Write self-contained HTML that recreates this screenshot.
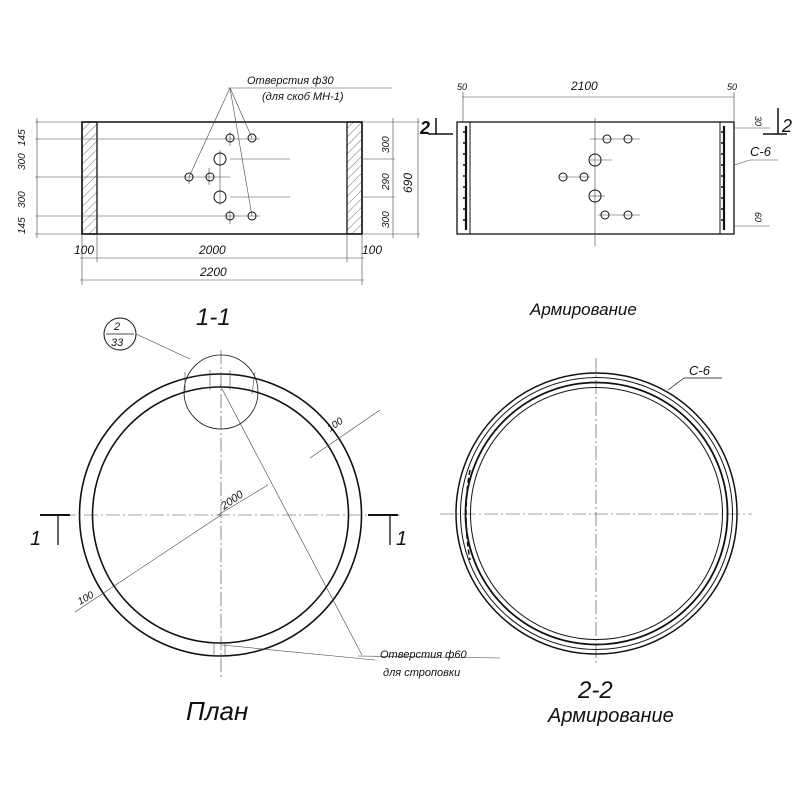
<!DOCTYPE html>
<html><head><meta charset="utf-8"><style>
html,body{margin:0;padding:0;background:#fff;}
svg{display:block;}
text{font-family:"Liberation Sans",sans-serif;font-style:italic;fill:#111;}
</style></head><body>
<svg width="800" height="800" viewBox="0 0 800 800" xmlns="http://www.w3.org/2000/svg">
<defs>
<pattern id="h" width="6" height="6" patternUnits="userSpaceOnUse" patternTransform="rotate(45)">
<line x1="0" y1="0" x2="0" y2="6" stroke="#555" stroke-width="0.8"/>
</pattern>
</defs>
<g stroke="#111" fill="none" stroke-width="1">
<rect x="82" y="122" width="280" height="112" stroke-width="1.5"/>
<rect x="82" y="122" width="15" height="112" fill="url(#h)" stroke-width="1.3"/>
<rect x="347" y="122" width="15" height="112" fill="url(#h)" stroke-width="1.3"/>
<g stroke-width="0.6" stroke="#444">
<line x1="35" y1="122" x2="82" y2="122"/>
<line x1="35" y1="139" x2="260" y2="139"/>
<line x1="35" y1="177" x2="230" y2="177"/>
<line x1="35" y1="216" x2="260" y2="216"/>
<line x1="35" y1="234" x2="82" y2="234"/>
<line x1="37" y1="118" x2="37" y2="238"/>
<line x1="362" y1="122" x2="420" y2="122"/>
<line x1="362" y1="159" x2="395" y2="159"/>
<line x1="362" y1="197" x2="395" y2="197"/>
<line x1="362" y1="234" x2="420" y2="234"/>
<line x1="393" y1="118" x2="393" y2="238"/>
<line x1="418" y1="118" x2="418" y2="238"/>
<line x1="230" y1="159" x2="290" y2="159"/>
<line x1="230" y1="197" x2="290" y2="197"/>
<line x1="82" y1="234" x2="82" y2="285"/>
<line x1="97" y1="234" x2="97" y2="262"/>
<line x1="347" y1="234" x2="347" y2="262"/>
<line x1="362" y1="234" x2="362" y2="285"/>
<line x1="80" y1="258" x2="364" y2="258"/>
<line x1="80" y1="280" x2="364" y2="280"/>
<line x1="228" y1="88" x2="392" y2="88"/>
<line x1="230" y1="88" x2="189" y2="177"/>
<line x1="230" y1="88" x2="252" y2="138"/>
<line x1="230" y1="88" x2="252" y2="216"/>
<line x1="220" y1="150" x2="220" y2="205"/>
<line x1="209" y1="168" x2="209" y2="185"/>
<line x1="189" y1="177" x2="189" y2="184"/>
<line x1="230" y1="132" x2="230" y2="146"/>
<line x1="230" y1="210" x2="230" y2="224"/>
</g>
<circle cx="230" cy="138" r="4"/><circle cx="252" cy="138" r="4"/>
<circle cx="220" cy="159" r="6"/><circle cx="220" cy="197" r="6"/>
<circle cx="189" cy="177" r="4"/><circle cx="210" cy="177" r="4"/>
<circle cx="230" cy="216" r="4"/><circle cx="252" cy="216" r="4"/>

<rect x="457" y="122" width="277" height="112" stroke-width="1.3"/>
<line x1="470" y1="122" x2="470" y2="234"/>
<line x1="720" y1="122" x2="720" y2="234"/>
<line x1="466" y1="126" x2="466" y2="230" stroke-width="2.2"/>
<line x1="724" y1="126" x2="724" y2="230" stroke-width="2.2"/>
<path d="M463 132h4M463 143h4M463 154h4M463 165h4M463 176h4M463 187h4M463 198h4M463 209h4M463 220h4M721 132h4M721 143h4M721 154h4M721 165h4M721 176h4M721 187h4M721 198h4M721 209h4M721 220h4" stroke-width="1.5"/>
<g stroke-width="0.6" stroke="#444">
<line x1="462" y1="97" x2="734" y2="97"/>
<line x1="463" y1="92" x2="463" y2="122"/>
<line x1="734" y1="92" x2="734" y2="122"/>
<line x1="595" y1="118" x2="595" y2="246"/>
<line x1="590" y1="139" x2="640" y2="139"/>
<line x1="560" y1="177" x2="590" y2="177"/>
<line x1="590" y1="160" x2="612" y2="160"/>
<line x1="590" y1="196" x2="605" y2="196"/>
<line x1="598" y1="215" x2="640" y2="215"/>
<line x1="734" y1="128" x2="770" y2="128"/>
<line x1="734" y1="226" x2="770" y2="226"/>
<line x1="734" y1="165" x2="750" y2="160"/>
<line x1="750" y1="160" x2="778" y2="160"/>
</g>
<circle cx="607" cy="139" r="4"/><circle cx="628" cy="139" r="4"/>
<circle cx="595" cy="160" r="6"/><circle cx="595" cy="196" r="6"/>
<circle cx="563" cy="177" r="4"/><circle cx="584" cy="177" r="4"/>
<circle cx="605" cy="215" r="4"/><circle cx="628" cy="215" r="4"/>
<line x1="428" y1="134" x2="453" y2="134" stroke-width="1.5"/>
<line x1="436" y1="118" x2="436" y2="134" stroke-width="1.5"/>
<line x1="763" y1="134" x2="787" y2="134" stroke-width="1.5"/>
<line x1="778" y1="108" x2="778" y2="134" stroke-width="1.5"/>

<circle cx="220.5" cy="515" r="141" stroke-width="1.6"/>
<circle cx="220.5" cy="515" r="128" stroke-width="1.6"/>
<g stroke-width="0.6" stroke="#444" stroke-dasharray="14,3,2,3">
<line x1="221" y1="350" x2="221" y2="680"/>
<line x1="40" y1="515" x2="400" y2="515"/>
<line x1="596" y1="358" x2="596" y2="665"/>
<line x1="440" y1="514" x2="752" y2="514"/>
</g>
<line x1="40" y1="515" x2="70" y2="515" stroke-width="2"/>
<line x1="368" y1="515" x2="398" y2="515" stroke-width="2"/>
<line x1="58" y1="515" x2="58" y2="545" stroke-width="1.3"/>
<line x1="390" y1="515" x2="390" y2="545" stroke-width="1.3"/>
<circle cx="221" cy="392" r="37" stroke-width="0.8"/>
<circle cx="120" cy="334" r="16" stroke-width="1"/>
<line x1="106" y1="334" x2="134" y2="334" stroke-width="0.8"/>
<g stroke-width="0.6" stroke="#444">
<line x1="136" y1="334" x2="190" y2="359"/>
<line x1="220" y1="385" x2="362" y2="655"/>
<line x1="221" y1="515" x2="75" y2="612"/>
<line x1="218" y1="515" x2="268" y2="485"/>
<line x1="310" y1="458" x2="380" y2="410"/>
<line x1="222" y1="645" x2="375" y2="660"/>
<line x1="358" y1="656" x2="500" y2="658"/>
<line x1="214" y1="642" x2="214" y2="656"/>
<line x1="225" y1="642" x2="225" y2="656"/>
<line x1="185" y1="372" x2="185" y2="392"/>
<line x1="210" y1="370" x2="210" y2="390"/>
<line x1="230" y1="370" x2="230" y2="390"/>
<line x1="255" y1="372" x2="252" y2="394"/>
</g>
<circle cx="596.5" cy="513.5" r="140.5" stroke-width="1.5"/>
<circle cx="596.5" cy="513.5" r="136" stroke-width="1"/>
<circle cx="596.5" cy="513.5" r="131" stroke-width="1.8"/>
<circle cx="596.5" cy="513.5" r="126" stroke-width="1"/>
<path d="M470 470 Q462 514 470 560" stroke-width="1.5" stroke-dasharray="5,3"/>
<line x1="668" y1="390" x2="684" y2="378" stroke-width="0.7"/>
<line x1="684" y1="378" x2="722" y2="378" stroke-width="0.7"/>
</g>
<g font-size="11">
<text x="247" y="84">Отверстия  ф30</text>
<text x="262" y="100">(для  скоб МН-1)</text>
<text x="74" y="254" font-size="12">100</text>
<text x="199" y="254" font-size="12">2000</text>
<text x="362" y="254" font-size="12">100</text>
<text x="200" y="276" font-size="12">2200</text>
<text x="571" y="90" font-size="12">2100</text>
<text x="457" y="90" font-size="9">50</text>
<text x="727" y="90" font-size="9">50</text>
<text x="750" y="156" font-size="13">С-6</text>
<text x="689" y="375" font-size="13">С-6</text>
<text x="380" y="658" font-size="11">Отверстия ф60</text>
<text x="383" y="676" font-size="11">для строповки</text>
<text x="530" y="315" font-size="17">Армирование</text>
<text x="548" y="722" font-size="20">Армирование</text>
<text x="578" y="698" font-size="24" font-style="normal">2-2</text>
<text x="186" y="720" font-size="26">План</text>
<text x="196" y="325" font-size="24" font-style="normal" font-family="Liberation Serif">1-1</text>
<text x="30" y="545" font-size="20" font-style="normal" font-family="Liberation Serif">1</text>
<text x="396" y="545" font-size="20" font-style="normal" font-family="Liberation Serif">1</text>
<text x="420" y="134" font-size="18" font-style="normal" font-weight="bold">2</text>
<text x="782" y="132" font-size="18" font-style="normal">2</text>
<text x="114" y="330" font-size="11">2</text>
<text x="111" y="346" font-size="11">33</text>
<text x="330" y="432" font-size="10" transform="rotate(-35 330 432)">100</text>
<text x="224" y="510" font-size="11" transform="rotate(-35 224 510)">2000</text>
<text x="80" y="605" font-size="10" transform="rotate(-30 80 605)">100</text>
<g font-size="10">
<text transform="translate(25,146) rotate(-90)">145</text>
<text transform="translate(25,170) rotate(-90)">300</text>
<text transform="translate(25,208) rotate(-90)">300</text>
<text transform="translate(25,234) rotate(-90)">145</text>
<text transform="translate(389,153) rotate(-90)">300</text>
<text transform="translate(389,190) rotate(-90)">290</text>
<text transform="translate(389,228) rotate(-90)">300</text>
<text transform="translate(412,193) rotate(-90)" font-size="12">690</text>
<text transform="translate(755,116) rotate(90)" font-size="9">30</text>
<text transform="translate(755,212) rotate(90)" font-size="9">60</text>
</g>
</g>
</svg>
</body></html>
